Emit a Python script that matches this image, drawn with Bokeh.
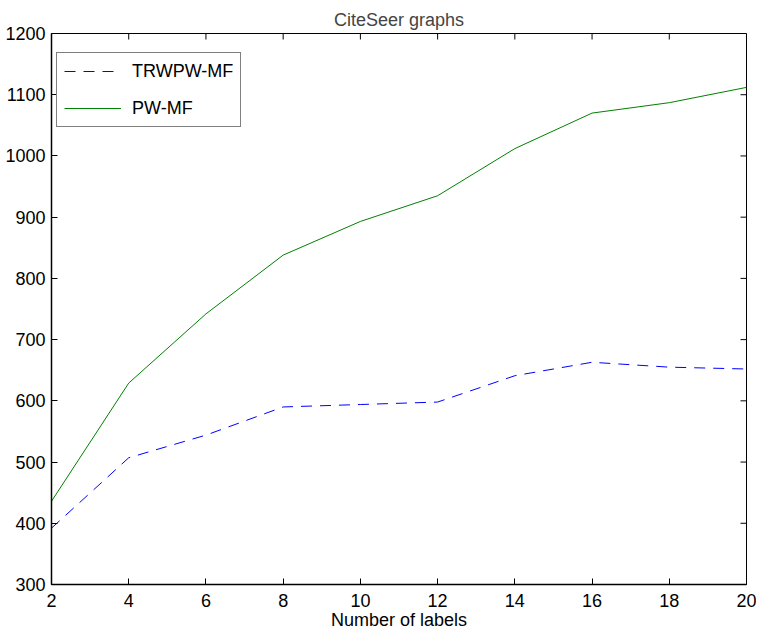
import math
from bokeh.plotting import figure
from bokeh.models import Range1d, FixedTicker, Legend, LegendItem
from bokeh.embed import file_html
from bokeh.resources import INLINE

labels = [2, 4, 6, 8, 10, 12, 14, 16, 18, 20]
trwpw_mf = [392, 507, 544, 590, 594, 598, 641, 663, 655, 652]
pw_mf = [436, 629, 742, 838, 893, 935, 1012, 1070, 1087, 1112]
x_ticks = [2, 4, 6, 8, 10, 12, 14, 16, 18, 20]
y_ticks = [300, 400, 500, 600, 700, 800, 900, 1000, 1100, 1200]

FONT = "Liberation Sans"
FS = "18px"

p = figure(width=756, height=632, output_backend="svg", toolbar_location=None,
           x_range=Range1d(x_ticks[0], x_ticks[-1]), y_range=Range1d(y_ticks[0], y_ticks[-1]),
           min_border_left=51, min_border_right=10, min_border_top=33, min_border_bottom=48,
           title="CiteSeer graphs")
p.title.text_font = FONT
p.title.text_font_size = FS
p.title.text_font_style = "normal"
p.title.align = "center"
p.title.standoff = 8
p.title.offset = 0
p.grid.visible = False
p.outline_line_color = "black"
p.outline_line_width = 1
p.background_fill_color = "white"
p.border_fill_color = "white"

p.xaxis.axis_label = "Number of labels"
p.xaxis.ticker = FixedTicker(ticks=x_ticks)
p.yaxis.ticker = FixedTicker(ticks=y_ticks)
for ax in list(p.xaxis) + list(p.yaxis):
    ax.major_tick_in = 6
    ax.major_tick_out = 0
    ax.minor_tick_in = 0
    ax.minor_tick_out = 0
    ax.axis_line_color = "black"
    ax.axis_line_width = 1.5
    ax.major_tick_line_color = "black"
    ax.major_label_text_font = FONT
    ax.major_label_text_font_size = FS
    ax.major_label_text_color = "black"
    ax.axis_label_text_font = FONT
    ax.axis_label_text_font_size = FS
    ax.axis_label_text_font_style = "normal"
    ax.axis_label_text_color = "black"
p.xaxis.major_label_standoff = 9
p.xaxis.axis_label_standoff = 0
p.yaxis.major_label_standoff = 6

# inward ticks on the top and right edges of the box
p.ray(x=x_ticks, y=[y_ticks[-1]] * len(x_ticks), length=6, length_units="screen",
      angle=-math.pi / 2, line_color="black", line_width=1)
p.ray(x=[x_ticks[-1]] * len(y_ticks), y=y_ticks, length=6, length_units="screen",
      angle=math.pi, line_color="black", line_width=1)

r1 = p.line(labels, trwpw_mf, line_color="#0000ff", line_width=1, line_dash="11 8")
r2 = p.line(labels, pw_mf, line_color="#008000", line_width=1)

legend = Legend(items=[LegendItem(label="TRWPW-MF", renderers=[r1]),
                       LegendItem(label="PW-MF", renderers=[r2])],
                location=(5, 457))
legend.border_line_color = "black"
legend.border_line_width = 1
legend.background_fill_color = "white"
legend.background_fill_alpha = 1
legend.label_text_font = FONT
legend.label_text_font_size = FS
legend.label_text_color = "black"
legend.glyph_width = 57
legend.glyph_height = 22
legend.label_height = 22
legend.label_standoff = 11
legend.padding = 7
legend.spacing = 15
legend.margin = 0
p.add_layout(legend, "center")

open("out.html", "w").write(file_html(p, INLINE))
